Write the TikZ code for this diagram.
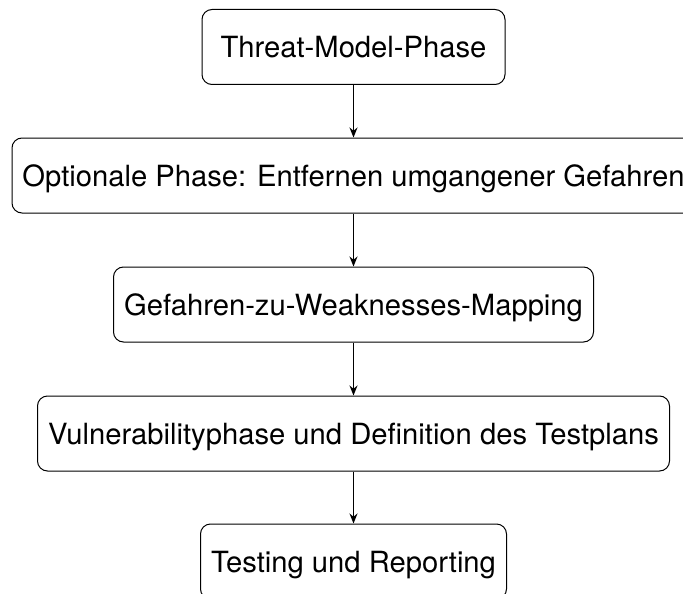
\documentclass[tikz,border=0pt]{standalone}
\usepackage{fontspec}
\setmainfont{TeX Gyre Heros}
\usetikzlibrary{arrows.meta}
\begin{document}
\begin{tikzpicture}[x=1pt,y=-1pt,
  phasebox/.style={draw, line width=1pt, rounded corners=10pt, inner sep=0pt,
    font=\fontsize{29.2}{35}\selectfont, minimum height=75pt, text depth=0pt},
  flowarrow/.style={-{Stealth[length=10pt,width=8pt]}, line width=1.4pt}]
\useasboundingbox (0,0) rectangle (683,594);
\clip (0,0) rectangle (683,594);
\node[phasebox, minimum width=303pt] (a) at (353.5,47) {Threat-Model-Phase};
\node[phasebox, minimum width=683pt] (b) at (353.5,175.5) {Optionale Phase: Entfernen umgangener Gefahren};
\node[phasebox, minimum width=480pt] (c) at (353.5,304.5) {Gefahren-zu-Weaknesses-Mapping};
\node[phasebox, minimum width=632pt] (d) at (353.5,433.5) {Vulnerabilityphase und Definition des Testplans};
\node[phasebox, minimum width=306pt] (e) at (353.5,561.5) {Testing und Reporting};
\draw[flowarrow] (a) -- (b);
\draw[flowarrow] (b) -- (c);
\draw[flowarrow] (c) -- (d);
\draw[flowarrow] (d) -- (e);
\end{tikzpicture}
\end{document}
